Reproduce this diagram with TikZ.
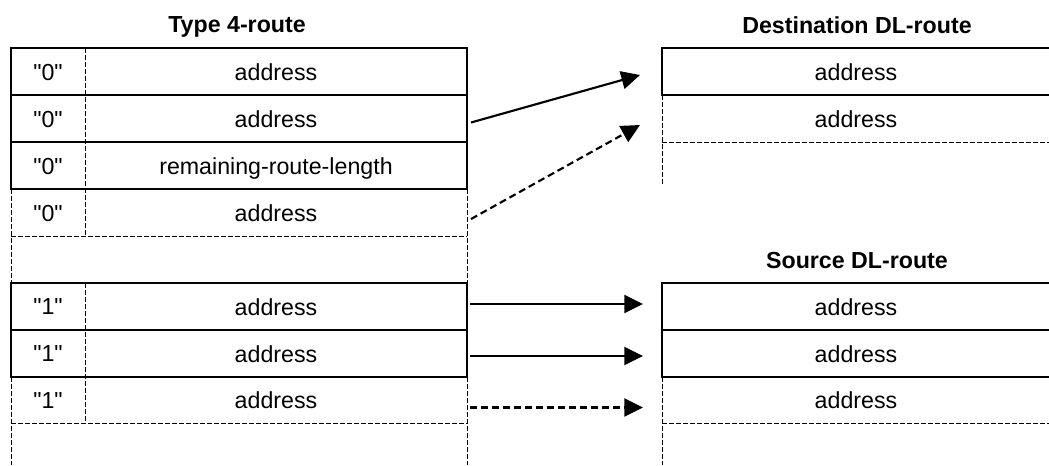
\documentclass[tikz,border=0pt]{standalone}
\usepackage{fontspec}
\setmainfont{Liberation Sans}[Ligatures=TeXOff]
\usetikzlibrary{arrows.meta}
\begin{document}
\begin{tikzpicture}[x=0.75pt,y=-0.75pt,
  rule/.style={line width=1.5pt},
  drule/.style={line width=0.75pt,dash pattern=on 3.75pt off 1.5pt},
  txt/.style={font=\fontsize{17.4}{20}\selectfont,inner sep=0pt,text depth=0pt},
  ttl/.style={font=\fontsize{17.4}{20}\selectfont\bfseries,inner sep=0pt,text depth=0pt},
  arr/.style={line width=1.6pt,-{Triangle[length=14pt,width=13.5pt]}},
  darr/.style={arr,dash pattern=on 5.25pt off 3pt}]
\useasboundingbox (0,0) rectangle (1049,465);

% ---------- left table (Type 4-route) ----------
\draw[drule] (11,189) -- (11,283) (467,189) -- (467,283) (11,236) -- (467,236);
\draw[drule] (85,47.5) -- (85,236) (85,283) -- (85,423);
\draw[drule] (11,376.5) -- (11,465) (467,376.5) -- (467,465) (11,423) -- (467,423);
\draw[rule] (11,47.5) rectangle (467,189);
\draw[rule] (11,95) -- (467,95) (11,142) -- (467,142);
\draw[rule] (11,283) rectangle (467,376.5);
\draw[rule] (11,330) -- (467,330);

% ---------- destination DL-route ----------
\draw[drule] (662,95) -- (662,186) (662,142) -- (1049,142);
\draw[rule] (1049,47.5) -- (662,47.5) -- (662,95) -- (1049,95);

% ---------- source DL-route ----------
\draw[drule] (662,376.5) -- (662,465) (662,423) -- (1049,423);
\draw[rule] (1049,283) -- (662,283) -- (662,376.5) -- (1049,376.5) (662,330) -- (1049,330);

% ---------- titles ----------
\node[ttl] (t1) at (237,25) {Type 4-route};
\node[ttl] (t2) at (857,25) {Destination DL-route};
\node[ttl] (t3) at (857,260) {Source DL-route};

% ---------- left cells ----------
\node[txt] (k1) at (48,72) {"0"};
\node[txt] (v1) at (276,72) {address};
\node[txt] (k2) at (48,119) {"0"};
\node[txt] (v2) at (276,119) {address};
\node[txt] (k3) at (48,166) {"0"};
\node[txt] (v3) at (276,166) {remaining-route-length};
\node[txt] (k4) at (48,213) {"0"};
\node[txt] (v4) at (276,213) {address};
\node[txt] (k5) at (48,307) {"1"};
\node[txt] (v5) at (276,307) {address};
\node[txt] (k6) at (48,354) {"1"};
\node[txt] (v6) at (276,354) {address};
\node[txt] (k7) at (48,400.5) {"1"};
\node[txt] (v7) at (276,400.5) {address};

% ---------- right cells ----------
\node[txt] (d1) at (856,72) {address};
\node[txt] (d2) at (856,119) {address};
\node[txt] (s1) at (856,307) {address};
\node[txt] (s2) at (856,354) {address};
\node[txt] (s3) at (856,400.5) {address};

% ---------- arrows ----------
\coordinate (a1s) at (471,122.5);
\coordinate (a1e) at (640,75);
\coordinate (a2s) at (471,219);
\coordinate (a2e) at (640,125);
\coordinate (b1s) at (470,304);
\coordinate (b1e) at (643,304);
\coordinate (b2s) at (470,356);
\coordinate (b2e) at (643,356);
\coordinate (b3s) at (470,407.5);
\coordinate (b3e) at (643,407.5);
\draw[arr] (a1s) -- (a1e);
\draw[darr] (a2s) -- (a2e);
\draw[arr] (b1s) -- (b1e);
\draw[arr] (b2s) -- (b2e);
\draw[darr] (b3s) -- (b3e);
\end{tikzpicture}
\end{document}
